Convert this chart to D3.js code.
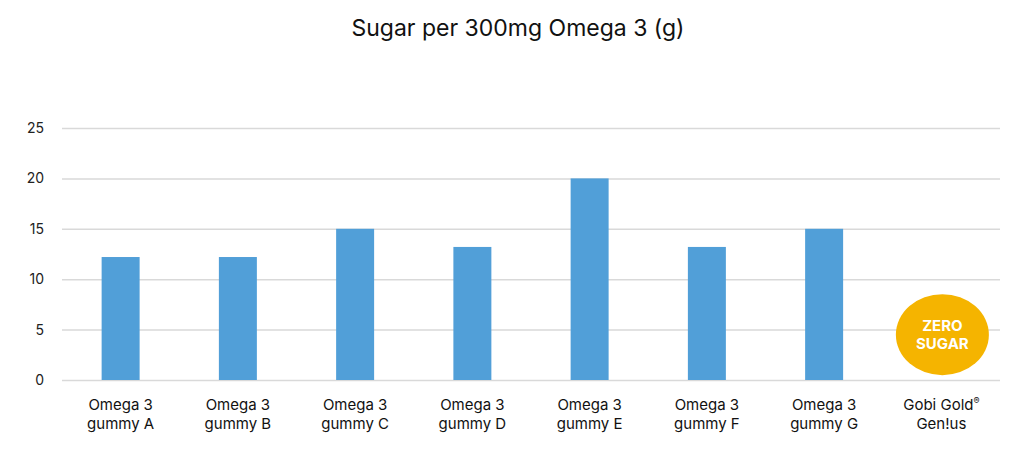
<!DOCTYPE html>
<html>
<head>
<meta charset="utf-8">
<script src="https://cdn.jsdelivr.net/npm/d3@7"></script>
<style>
  body { margin: 0; background: #fff; }
  svg { font-family: Inter, "Liberation Sans", sans-serif; }
</style>
</head>
<body>
<div id="chart"></div>
<script>
var categories = [
  ["Omega 3", "gummy A"],
  ["Omega 3", "gummy B"],
  ["Omega 3", "gummy C"],
  ["Omega 3", "gummy D"],
  ["Omega 3", "gummy E"],
  ["Omega 3", "gummy F"],
  ["Omega 3", "gummy G"],
  ["Gobi Gold", "Gen!us"]
];
var sugar = [12.2, 12.2, 15, 13.2, 20, 13.2, 15, 0];
var yTicks = [0, 5, 10, 15, 20, 25];

var margin = {top: 128, right: 24, bottom: 71, left: 62},
    width = 1024 - margin.left - margin.right,
    height = 451 - margin.top - margin.bottom;

var svg = d3.select("#chart")
  .append("svg")
    .attr("width", 1024)
    .attr("height", 451);

svg.append("text")
  .attr("x", 518)
  .attr("y", 36)
  .attr("text-anchor", "middle")
  .style("font-size", "23px")
  .style("fill", "#111")
  .text("Sugar per 300mg Omega 3 (g)");

var g = svg.append("g")
  .attr("transform", "translate(" + margin.left + "," + margin.top + ")");

var x = d3.scaleBand()
  .domain(d3.range(categories.length))
  .range([0, width])
  .paddingInner(0.676)
  .paddingOuter(0.338);

var y = d3.scaleLinear()
  .domain([0, 25])
  .range([height, 0]);

// gridlines
g.append("g")
  .call(d3.axisLeft(y).tickValues(yTicks).tickSize(-width).tickFormat(""))
  .call(function(a) {
    a.select(".domain").remove();
    a.selectAll("line").attr("stroke", "#d9d9d9").attr("stroke-width", 1.5);
  });

// y labels
g.append("g")
  .call(d3.axisLeft(y).tickValues(yTicks).tickSize(0).tickPadding(18))
  .call(function(a) {
    a.select(".domain").remove();
    a.selectAll("text")
      .style("font-size", "14px")
      .style("fill", "#222")
      .style("font-family", "Inter, 'Liberation Sans', sans-serif");
  });

// bars
g.selectAll(".bar")
  .data(sugar)
  .enter().append("rect")
    .attr("class", "bar")
    .attr("x", function(d, i) { return x(i); })
    .attr("y", function(d) { return y(d); })
    .attr("width", x.bandwidth())
    .attr("height", function(d) { return height - y(d); })
    .style("fill", "#519fd8");

// x labels
var lab = g.selectAll(".xlab")
  .data(categories)
  .enter().append("text")
    .attr("class", "xlab")
    .attr("text-anchor", "middle")
    .attr("transform", function(d, i) {
      return "translate(" + (x(i) + x.bandwidth() / 2) + "," + (height + 30) + ")";
    })
    .style("font-size", "15px")
    .style("fill", "#111");
lab.append("tspan").attr("x", 0).attr("dy", 0).text(function(d) { return d[0]; });
// registered mark as superscript on the last label
lab.filter(function(d, i) { return i === categories.length - 1; })
  .append("tspan")
    .attr("dy", -6)
    .style("font-size", "9px")
    .text("\u00AE");
lab.append("tspan").attr("x", 0).attr("dy", function(d, i) { return i === categories.length - 1 ? 25 : 19; })
  .text(function(d) { return d[1]; });

// zero sugar badge on last category
var last = categories.length - 1;
var cx = x(last) + x.bandwidth() / 2 + 1;
var cy = y(4.5);
g.append("ellipse")
  .attr("cx", cx)
  .attr("cy", cy)
  .attr("rx", 46.5)
  .attr("ry", 40.5)
  .style("fill", "#f5b400");
g.append("text")
  .attr("x", cx)
  .attr("y", cy - 4)
  .attr("text-anchor", "middle")
  .style("font-size", "15px")
  .style("font-weight", "bold")
  .style("fill", "#fff")
  .text("ZERO");
g.append("text")
  .attr("x", cx)
  .attr("y", cy + 14)
  .attr("text-anchor", "middle")
  .style("font-size", "15px")
  .style("font-weight", "bold")
  .style("fill", "#fff")
  .text("SUGAR");
</script>
</body>
</html>
